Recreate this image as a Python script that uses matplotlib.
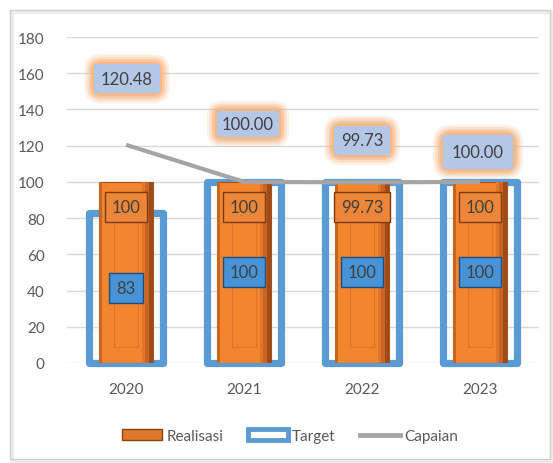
import matplotlib.pyplot as plt
import numpy as np
from matplotlib.patches import Patch, Rectangle
from matplotlib.lines import Line2D

plt.rcParams['font.family'] = ['Lato', 'DejaVu Sans']

years = ['2020', '2021', '2022', '2023']
realisasi = [100, 100, 99.73, 100]
target = [83, 100, 100, 100]
capaian = [120.48, 100.00, 99.73, 100.00]
realisasi_labels = ['100', '100', '99.73', '100']
target_labels = ['83', '100', '100', '100']
capaian_labels = ['120.48', '100.00', '99.73', '100.00']

# where the capaian labels sit relative to their point (pixels)
cap_offsets = [(1, 66), (4, 58), (0, 42), (-2, 30)]
cap_pads = [0.4, 0.3, 0.4, 0.55]

orange = '#f4852f'
blue = '#5b9bd5'
grey = '#a5a5a5'
txt = '#404040'

fig = plt.figure(figsize=(5.53, 4.64), dpi=100)
ax = fig.add_axes([67 / 553, 1 - 364 / 464, 472 / 553, 326 / 464])

x = np.arange(len(years))
r = np.array(realisasi)
t = np.array(target)

# target: outline only
ax.bar(x, t, width=0.63, fill=False, edgecolor=blue, linewidth=5.2,
       joinstyle='round', zorder=2, clip_on=False)

# realisasi: bevelled orange column
w = 0.45
ax.bar(x, r, width=w, color=orange, edgecolor='#a8511a', linewidth=0.8, zorder=3)
# darker shading towards the right edge
for off, sw, c in [(0.075, 0.03, '#e0762a'), (0.045, 0.03, '#c96424'), (0.015, 0.03, '#9e4c17')]:
    ax.bar(x + w / 2 - off, r, width=sw, color=c, linewidth=0, zorder=3)
ax.bar(x - w / 2 + 0.01, r, width=0.02, color='#c8651f', linewidth=0, zorder=3)
ax.bar(x, r * 0.73, bottom=r * 0.09, width=0.2, fill=False,
       edgecolor='#e0732a', linewidth=0.8, zorder=3)

# capaian line
ax.plot(x, capaian, color=grey, linewidth=3, solid_capstyle='butt', zorder=4)

# value labels
for i in range(len(years)):
    ax.annotate(realisasi_labels[i], (x[i], r[i]), xytext=(0, -25),
                textcoords='offset pixels', ha='center', va='center',
                fontsize=12, color=txt, zorder=6,
                bbox=dict(boxstyle='square,pad=0.42', facecolor='#ee8638',
                          edgecolor='#7a3a0e', linewidth=1))
    ax.annotate(target_labels[i], (x[i], t[i] / 2), ha='center', va='center',
                fontsize=12, color=txt, zorder=6,
                bbox=dict(boxstyle='square,pad=0.42', facecolor='#4893d6',
                          edgecolor='#1d4f80', linewidth=1))
    dx, dy = cap_offsets[i]
    p = cap_pads[i]
    for extra, a in [(0.6, 0.18), (0.45, 0.3), (0.3, 0.5), (0.15, 0.8)]:
        ax.annotate(capaian_labels[i], (x[i], capaian[i]), xytext=(dx, dy),
                    textcoords='offset pixels', ha='center', va='center',
                    fontsize=12, color='none', zorder=6,
                    bbox=dict(boxstyle='round,pad=%s' % (p + extra),
                              facecolor='#f9b47f', edgecolor='none', alpha=a))
    ax.annotate(capaian_labels[i], (x[i], capaian[i]), xytext=(dx, dy),
                textcoords='offset pixels', ha='center', va='center',
                fontsize=12, color=txt, zorder=7,
                bbox=dict(boxstyle='square,pad=%s' % p, facecolor='#b4c7e7',
                          edgecolor='none'))

ax.set_xlim(-0.5, 3.5)
ax.set_ylim(0, 180)
ax.set_yticks(range(0, 181, 20))
ax.set_xticks(x)
ax.set_xticklabels(years)
ax.tick_params(length=0, labelsize=11, labelcolor='#595959')
ax.tick_params(axis='x', pad=14)
ax.tick_params(axis='y', pad=16)
ax.grid(axis='y', color='#d9d9d9', linewidth=1)
ax.set_axisbelow(True)
for s in ax.spines.values():
    s.set_visible(False)

handles = [
    Patch(facecolor='#e0782c', edgecolor='#8a4213', linewidth=1),
    Patch(facecolor='white', edgecolor=blue, linewidth=3.5),
    Line2D([0], [0], color=grey, linewidth=3.5),
]
fig.legend(handles, ['Realisasi', 'Target', 'Capaian'], loc='center',
           bbox_to_anchor=(0.525, 1 - 437 / 464), ncol=3, frameon=False,
           fontsize=11, labelcolor='#595959', handlelength=2.6,
           handletextpad=0.3, columnspacing=1.6)

# chart border with a soft shadow
fig.patches.append(Rectangle((12 / 553, 2 / 464), 540 / 553, 449 / 464,
                             transform=fig.transFigure, fill=False,
                             edgecolor='#ececec', linewidth=2.5))
fig.patches.append(Rectangle((10 / 553, 4 / 464), 540 / 553, 449 / 464,
                             transform=fig.transFigure, fill=False,
                             edgecolor='#cfcfcf', linewidth=1))

fig.savefig('out.png', dpi=100)
